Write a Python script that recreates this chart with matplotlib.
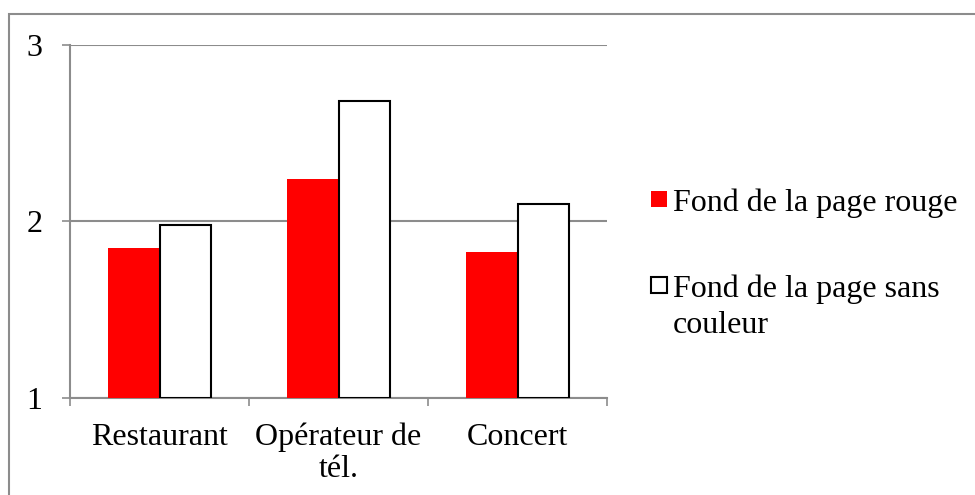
import numpy as np
import matplotlib.pyplot as plt
from matplotlib.patches import Rectangle

categories = ['Restaurant', 'Opérateur de\ntél.', 'Concert']
rouge = [1.85, 2.24, 1.83]
sans_couleur = [1.98, 2.68, 2.10]
series_names = ['Fond de la page rouge', 'Fond de la page sans\ncouleur']
series_colors = ['#ff0000', 'white']

plt.rcParams['font.family'] = ['Liberation Serif', 'DejaVu Serif']

W, H = 975, 495
fig = plt.figure(figsize=(W / 100, H / 100), dpi=100)
ax = fig.add_axes([70 / W, 1 - 398 / H, 537 / W, 353 / H])

# outer frame around the whole chart
fig.patches.append(Rectangle((9 / W, -0.1), 1.2, 0.1 + (H - 14) / H,
                             transform=fig.transFigure, fill=False,
                             edgecolor='#8c8c8c', linewidth=1.5))

x = np.arange(len(categories))
w = 0.285
b1 = ax.bar(x - w / 2, np.array(rouge) - 1, w, bottom=1, color=series_colors[0],
            edgecolor='none', zorder=3)
b2 = ax.bar(x + w / 2, np.array(sans_couleur) - 1, w, bottom=1, color=series_colors[1],
            edgecolor='black', linewidth=1.5, zorder=3)

ax.set_xlim(-0.5, 2.5)
ax.set_ylim(1, 3)
ax.set_yticks([1, 2, 3])
ax.set_yticklabels(['1', '2', '3'])
ax.yaxis.grid(True, color='#8c8c8c', linewidth=1.5, zorder=0)
ax.tick_params(axis='y', length=6, width=1.2, color='#8c8c8c', pad=14, labelsize=23)

ax.set_xticks(x)
ax.set_xticklabels(categories, fontsize=23, linespacing=1.12)
ax.set_xticks([-0.5, 0.5, 1.5, 2.5], minor=True)
ax.tick_params(axis='x', which='major', length=0, pad=18)
ax.tick_params(axis='x', which='minor', length=6, width=1.2, color='#8c8c8c')

for side in ['top', 'right']:
    ax.spines[side].set_visible(False)
for side in ['left', 'bottom']:
    ax.spines[side].set_color('#8c8c8c')
    ax.spines[side].set_linewidth(1.5)

# legend: square key next to the first line of each label
key_tops = [191, 277]
for name, color, top in zip(series_names, series_colors, key_tops):
    fig.patches.append(Rectangle((651 / W, 1 - (top + 16) / H), 16 / W, 16 / H,
                                 transform=fig.transFigure, facecolor=color,
                                 edgecolor='none' if color != 'white' else 'black',
                                 linewidth=1.5))
    fig.text(673 / W, 1 - (top - 3) / H, name, fontsize=23, va='top',
             ha='left', linespacing=1.36)

fig.savefig('out.png', dpi=100)
